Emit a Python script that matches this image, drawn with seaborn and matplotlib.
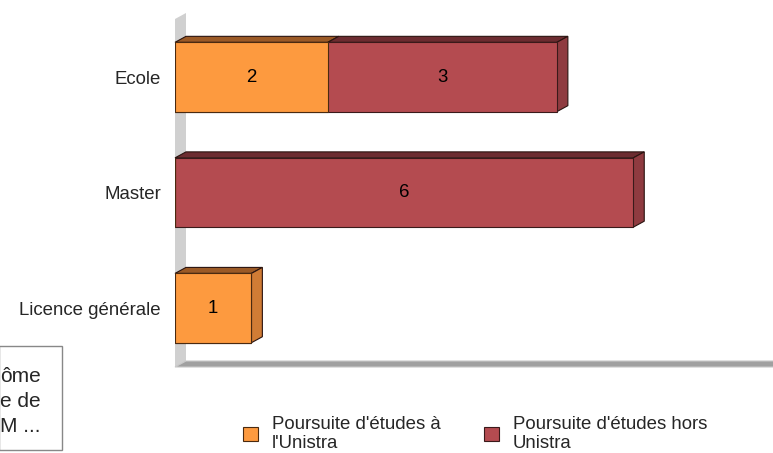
import numpy as np
import pandas as pd
import matplotlib
matplotlib.use("Agg")
import matplotlib.pyplot as plt
from matplotlib.patches import Polygon, Rectangle, Patch
import seaborn as sns

categories = ["Ecole", "Master", "Licence générale"]
unistra = [2, 0, 1]
hors_unistra = [3, 6, 0]
series_names = ["Poursuite d'études à\nl'Unistra", "Poursuite d'études hors\nUnistra"]

orange = {"front": "#fd9a3f", "top": "#9b5a26", "side": "#d07c35"}
red = {"front": "#b44b50", "top": "#6c2c30", "side": "#8f3b40"}

sns.set_style("white")
plt.rcParams["font.family"] = ["Liberation Sans", "DejaVu Sans"]
FS = 13.4

df = pd.DataFrame({"cat": categories, "unistra": unistra, "hors": hors_unistra})
df["total"] = df["unistra"] + df["hors"]

fig = plt.figure(figsize=(7.73, 4.53), dpi=100)
ax = fig.add_axes([175 / 773, 86 / 453, 611 / 773, 348 / 453])

# front faces of the bars
sns.barplot(data=df, x="total", y="cat", orient="h", color=red["front"], saturation=1,
            width=0.6, edgecolor="#3a1a1a", linewidth=0.8, ax=ax, zorder=3)
red_patches = list(ax.patches)
sns.barplot(data=df, x="unistra", y="cat", orient="h", color=orange["front"], saturation=1,
            width=0.6, edgecolor="#4a2a10", linewidth=0.8, ax=ax, zorder=4)
orange_patches = list(ax.patches[len(red_patches):])

xmax = 8
ymin, ymax = -0.502, 2.51
ax.set_xlim(0, xmax)
ax.set_ylim(ymax, ymin)

# 3d depth in data units (11 px right, 6 px up)
dx = 11 / 76.4
dy = 6 / 115.6

# wall and floor
wall = Polygon([(0, ymax), (0, ymin), (dx, ymin - dy), (dx, ymax - dy)],
               closed=True, facecolor="#d0d0d0", edgecolor="none", zorder=1, clip_on=False)
floor = Polygon([(0, ymax), (xmax, ymax), (xmax + dx, ymax - dy), (dx, ymax - dy)],
                closed=True, facecolor="#a0a0a0", edgecolor="#c8c8c8", linewidth=0.8,
                zorder=1, clip_on=False)
ax.add_patch(wall)
ax.add_patch(floor)

for i in range(len(categories)):
    segs = []
    if unistra[i] > 0:
        segs.append((0, unistra[i], orange, orange_patches[i]))
    if hors_unistra[i] > 0:
        segs.append((unistra[i], hors_unistra[i], red, red_patches[i]))
    for k, (start, w, col, p) in enumerate(segs):
        ytop = p.get_y()
        ybot = p.get_y() + p.get_height()
        top = Polygon([(start, ytop), (start + w, ytop), (start + w + dx, ytop - dy), (start + dx, ytop - dy)],
                      closed=True, facecolor=col["top"], edgecolor="#2a1410", linewidth=0.8,
                      zorder=2, clip_on=False)
        ax.add_patch(top)
        if k == len(segs) - 1:
            side = Polygon([(start + w, ytop), (start + w + dx, ytop - dy), (start + w + dx, ybot - dy), (start + w, ybot)],
                           closed=True, facecolor=col["side"], edgecolor="#2a1410", linewidth=0.8,
                           zorder=2, clip_on=False)
            ax.add_patch(side)
        ax.text(start + w / 2, i, str(w), ha="center", va="center", fontsize=FS, color="black", zorder=6)

for s in ax.spines.values():
    s.set_visible(False)
ax.set_xticks([])
ax.set_xlabel("")
ax.set_ylabel("")
ax.tick_params(axis="y", length=0, pad=10, labelsize=FS)

handles = [Patch(facecolor=orange["front"], edgecolor="#4a2a10", linewidth=0.8),
           Patch(facecolor=red["front"], edgecolor="#3a1a1a", linewidth=0.8)]
leg = fig.legend(handles, series_names, loc="center left", bbox_to_anchor=(234 / 773, 1 - 434 / 453),
                 ncol=2, frameon=False, fontsize=FS, handlelength=0.8, handleheight=0.8,
                 handletextpad=0.75, columnspacing=2.3, borderpad=0, labelspacing=0)
for t in leg.get_texts():
    t.set_linespacing(1.22)

# cut-off box at the bottom left
fig.patches.append(Rectangle((-1 / 773, 1 - 450 / 453), 63 / 773, 104 / 453, transform=fig.transFigure,
                             facecolor="white", edgecolor="#888888", linewidth=1))
for txt, yb in zip(["ôme", "e de", "M ..."], [382, 407, 432]):
    fig.text(0, 1 - yb / 453, txt, ha="left", va="baseline", fontsize=15)

fig.savefig("out.png", dpi=100)
